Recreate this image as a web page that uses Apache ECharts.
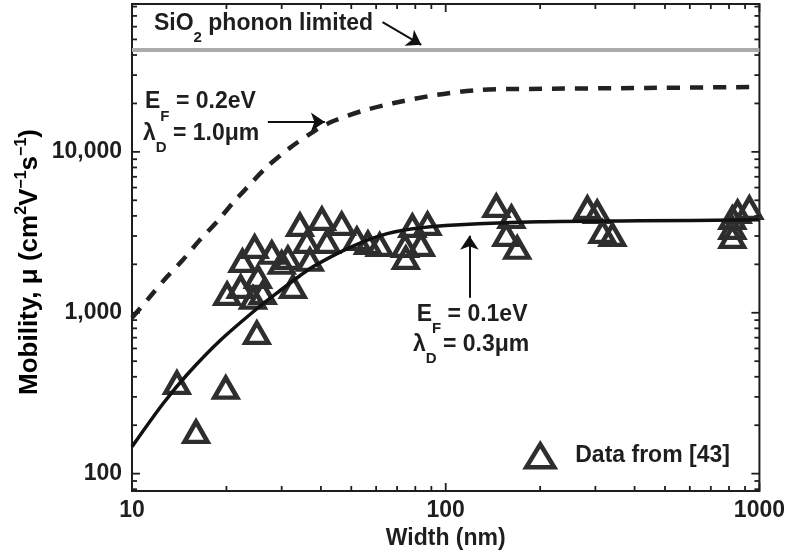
<!DOCTYPE html>
<html>
<head>
<meta charset="utf-8">
<title>Mobility vs width</title>
<script src="https://cdn.jsdelivr.net/npm/echarts@6/dist/echarts.min.js"></script>
<style>
  html, body { margin: 0; padding: 0; background: #fff; }
  #chart { width: 788px; height: 556px; }
</style>
</head>
<body>
<div id="chart"></div>
<script>
// Measured mobility vs ribbon width
const widths = [13.9, 16.0, 19.9, 25.0, 20.1, 22.2, 24.3, 26.1, 32.6, 24.6,
  27.9, 22.5, 25.2, 30.0, 31.4, 34.3, 40.3, 46.6, 36.1, 41.8,
  52.1, 56.5, 61.6, 36.9, 78.3, 87.5, 74.2, 83.4, 74.6, 145,
  162, 156, 169, 283, 304, 316, 340, 820, 820, 820, 929, 852];
const mobilities = [367, 182, 342, 750, 1310, 1450, 1240, 1330, 1450, 2570,
  2360, 2100, 1670, 2045, 2195, 3520, 3830, 3570, 2760, 2760,
  2880, 2720, 2645, 2135, 3470, 3570, 2605, 2645, 2195, 4620,
  3940, 3050, 2535, 4490, 4240, 3180, 3050, 3890, 3370, 2960, 4490, 4240];

// Model curve, E_F = 0.1 eV, lambda_D = 0.3 um
const modelWidthLow = [10, 12.55, 14.97, 19.06, 25.0, 29.6, 34.3, 37.7, 48.4, 61.6, 78.5, 110.8, 199, 415, 1000];
const modelMobLow = [147, 272, 412, 670, 1059, 1370, 1698, 1931, 2497, 3008, 3324, 3521, 3675, 3727, 3780];

// Model curve, E_F = 0.2 eV, lambda_D = 1.0 um
const modelWidthHigh = [10, 11.41, 12.93, 14.54, 16.47, 18.66, 20.97, 22.91, 26.92, 31.86, 38.26, 43.66, 54.4, 67.8, 93.6, 128.3, 185, 436.6, 1000];
const modelMobHigh = [930, 1257, 1673, 2134, 2841, 3675, 4823, 5808, 8070, 10590, 13500, 15500, 18000, 20050, 22600, 24270, 24620, 24970, 25330];

// SiO2 surface phonon limit
const phononLimit = 43000;

// Axis ranges and ticks
const X_MIN = 10, X_MAX = 1000;
const Y_MIN = 78, Y_MAX = 83000;
const xMajorTicks = [10, 100, 1000];
const xMinorTicks = [20, 30, 40, 50, 60, 70, 80, 90, 200, 300, 400, 500, 600, 700, 800, 900];
const yMajorTicks = [100, 1000, 10000];
const yMinorTicks = [80, 90, 200, 300, 400, 500, 600, 700, 800, 900,
  2000, 3000, 4000, 5000, 6000, 7000, 8000, 9000,
  20000, 30000, 40000, 50000, 60000, 70000, 80000];

// Annotation arrows (tail -> head) in data units
const arrowTails = [[27.1, 15350], [62.9, 64100], [119, 1240]];
const arrowHeads = [[41.2, 15350], [83.6, 46300], [119, 3010]];

// Annotation text anchors (top-left) in data units
const noteAnchors = [[11.75, 76700], [11.0, 24970], [10.84, 15920], [80.8, 1196], [78.6, 773]];
const noteTexts = [
  '{m|SiO}{s|2}{m| phonon limited}',
  '{m|E}{s|F}{m| = 0.2eV}',
  '{m|\u03bb}{s|D}{m| = 1.0\u03bcm}',
  '{m|E}{s|F}{m| = 0.1eV}',
  '{m|\u03bb}{s|D}{m| = 0.3\u03bcm}'
];

const FONT = '"Liberation Sans", Arial, Helvetica, sans-serif';
const INK = '#1e1e1e';
const FS = 23;

const richText = {
  m: { fontSize: FS, fontWeight: 'bold', fontFamily: FONT, color: INK, lineHeight: 28 },
  s: { fontSize: 15, fontWeight: 'bold', fontFamily: FONT, color: INK, verticalAlign: 'top', padding: [21, 0, 0, 0], lineHeight: 1 }
};
const titleRich = {
  m: { fontSize: 26, fontWeight: 'bold', fontFamily: FONT, color: INK, lineHeight: 32 },
  p: { fontSize: 16, fontWeight: 'bold', fontFamily: FONT, color: INK, verticalAlign: 'top', lineHeight: 1 }
};

function isDecade(v) {
  const e = Math.log10(v);
  return Math.abs(e - Math.round(e)) < 1e-6;
}
function withCommas(v) {
  return String(Math.round(v)).replace(/\B(?=(\d{3})+(?!\d))/g, ',');
}

const tickData = [];
xMajorTicks.forEach(v => tickData.push([v, Y_MIN, 0]));
xMinorTicks.forEach(v => tickData.push([v, Y_MIN, 1]));
yMajorTicks.forEach(v => tickData.push([X_MIN, v, 2]));
yMinorTicks.forEach(v => tickData.push([X_MIN, v, 3]));

const zip = (a, b) => a.map((v, i) => [v, b[i]]);

const chart = echarts.init(document.getElementById('chart'), null, { renderer: 'canvas' });

chart.setOption({
  animation: false,
  backgroundColor: '#fff',
  grid: {
    left: 132, right: 28, top: 4, bottom: 65,
    show: true, borderColor: INK, borderWidth: 2, backgroundColor: 'transparent'
  },
  xAxis: {
    type: 'log', logBase: 10, min: X_MIN, max: X_MAX,
    axisLine: { show: false }, axisTick: { show: false }, splitLine: { show: false },
    axisLabel: {
      margin: 8, fontSize: FS, fontWeight: 'bold', fontFamily: FONT, color: INK,
      formatter: v => isDecade(v) ? String(Math.round(v)) : ''
    },
    name: 'Width (nm)', nameLocation: 'middle', nameGap: 33,
    nameTextStyle: { fontSize: FS, fontWeight: 'bold', fontFamily: FONT, color: INK }
  },
  yAxis: {
    type: 'log', logBase: 10, min: Y_MIN, max: Y_MAX,
    axisLine: { show: false }, axisTick: { show: false }, splitLine: { show: false },
    axisLabel: {
      margin: 10, fontSize: FS, fontWeight: 'bold', fontFamily: FONT, color: INK,
      formatter: v => isDecade(v) ? withCommas(v) : ''
    }
  },
  legend: {
    data: ['Data from [43]'],
    left: 519, top: 437,
    itemWidth: 28, itemHeight: 23,
    icon: 'triangle',
    itemStyle: { color: 'rgba(0,0,0,0)', borderColor: '#2e2e2e', borderWidth: 4.5, opacity: 1 },
    textStyle: { fontSize: FS, fontWeight: 'bold', fontFamily: FONT, color: INK, padding: [0, 0, 0, 16] }
  },
  graphic: [{
    type: 'text',
    x: 30, y: 262,
    rotation: Math.PI / 2,
    style: {
      text: '{m|Mobility, \u03bc (cm}{p|2}{m|V}{p|\u22121}{m|s}{p|\u22121}{m|)}',
      rich: titleRich,
      align: 'center', verticalAlign: 'middle'
    }
  }],
  series: [
    {
      name: 'phonon', type: 'line', silent: true, symbol: 'none',
      data: [[X_MIN, phononLimit], [X_MAX, phononLimit]],
      lineStyle: { color: '#ababab', width: 4 }, z: 2
    },
    {
      name: 'model high', type: 'line', silent: true, symbol: 'none',
      smooth: 0.3,
      data: zip(modelWidthHigh, modelMobHigh),
      lineStyle: { color: '#222', width: 4.5, type: [13, 10], cap: 'butt' }, z: 3
    },
    {
      name: 'model low', type: 'line', silent: true, symbol: 'none',
      smooth: 0.3,
      data: zip(modelWidthLow, modelMobLow),
      lineStyle: { color: '#111', width: 3.5 }, z: 4
    },
    {
      name: 'Data from [43]', type: 'scatter',
      symbol: 'triangle', symbolSize: [23, 20],
      data: zip(widths, mobilities),
      itemStyle: { color: 'rgba(0,0,0,0)', borderColor: '#2e2e2e', borderWidth: 4.5, opacity: 1 },
      z: 3
    },
    {
      name: 'arrows', type: 'lines', coordinateSystem: 'cartesian2d', silent: true,
      symbol: ['none', 'arrow'], symbolSize: 14,
      data: arrowTails.map((t, i) => ({ coords: [t, arrowHeads[i]] })),
      lineStyle: { color: '#111', width: 2, opacity: 1, curveness: 0 },
      z: 6
    },
    {
      name: 'notes', type: 'scatter', silent: true, symbolSize: 0,
      itemStyle: { opacity: 1 },
      data: noteAnchors.map((p, i) => ({ value: p, label: { formatter: noteTexts[i] } })),
      label: {
        show: true, position: [0, 0], align: 'left', verticalAlign: 'top',
        opacity: 1, rich: richText
      },
      z: 6
    },
    {
      name: 'ticks', type: 'custom', silent: true, clip: false,
      data: tickData,
      renderItem: function (params, api) {
        const cs = params.coordSys;
        const kind = api.value(2);
        const len = (kind === 0 || kind === 2) ? 8 : 5;
        const style = { stroke: INK, lineWidth: 1.8 };
        if (kind < 2) {
          const px = api.coord([api.value(0), Y_MIN])[0];
          const yb = cs.y + cs.height;
          return {
            type: 'group', children: [
              { type: 'line', shape: { x1: px, y1: yb, x2: px, y2: yb - len }, style: style },
              { type: 'line', shape: { x1: px, y1: cs.y, x2: px, y2: cs.y + len }, style: style }
            ]
          };
        }
        const py = api.coord([X_MIN, api.value(1)])[1];
        const xr = cs.x + cs.width;
        return {
          type: 'group', children: [
            { type: 'line', shape: { x1: cs.x, y1: py, x2: cs.x + len, y2: py }, style: style },
            { type: 'line', shape: { x1: xr, y1: py, x2: xr - len, y2: py }, style: style }
          ]
        };
      },
      z: 7
    }
  ]
});
</script>
</body>
</html>
